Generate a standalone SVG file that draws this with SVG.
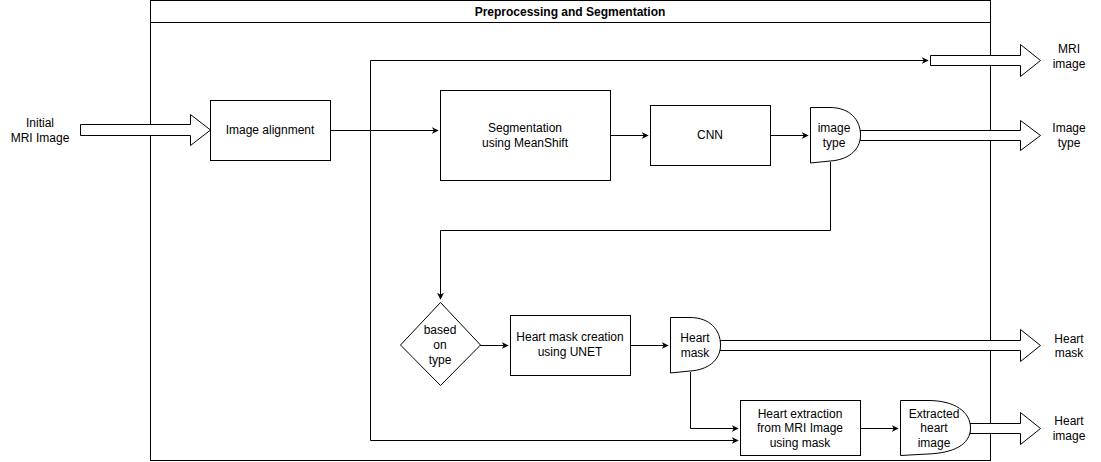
<svg xmlns="http://www.w3.org/2000/svg" width="1101" height="462" viewBox="0 0 1101 462">
<defs>
<marker id="ah" viewBox="0 0 10 10" refX="9" refY="5" markerWidth="7" markerHeight="7" markerUnits="userSpaceOnUse" orient="auto"><path d="M0,0 L10,5 L0,10 L3,5 Z" fill="#000"/></marker>
</defs>
<style>
text{font-family:"Liberation Sans",Arial,sans-serif;font-size:12px;fill:#000;text-anchor:middle;dominant-baseline:central}
.b{fill:#fff;stroke:#000;stroke-width:1}
.c{fill:none;stroke:#000;stroke-width:1}
.fa{fill:#fff;stroke:#000;stroke-width:1}
.t{font-weight:bold}
</style>
<rect width="1101" height="462" fill="#fff"/>
<g id="container">
<rect class="b" x="150.5" y="0.5" width="840" height="460"/>
<line class="c" x1="150.5" y1="22.5" x2="990.5" y2="22.5"/>
<text class="t" x="570" y="12">Preprocessing and Segmentation</text>
</g>
<g id="connectors">
<path class="c" d="M330,130.5 L438,130.5" marker-end="url(#ah)"/>
<path class="c" d="M370.5,440.5 L370.5,60.5 L928,60.5" marker-end="url(#ah)"/>
<path class="c" d="M610,135.5 L648,135.5" marker-end="url(#ah)"/>
<path class="c" d="M770,135.5 L808,135.5" marker-end="url(#ah)"/>
<path class="c" d="M830.5,162 L830.5,230.5 L440.5,230.5 L440.5,299" marker-end="url(#ah)"/>
<path class="c" d="M480,345.5 L508,345.5" marker-end="url(#ah)"/>
<path class="c" d="M630,345.5 L668,345.5" marker-end="url(#ah)"/>
<path class="c" d="M690.5,372 L690.5,428.5 L738,428.5" marker-end="url(#ah)"/>
<path class="c" d="M370.5,440.5 L738,440.5" marker-end="url(#ah)"/>
<path class="c" d="M860,428.5 L898,428.5" marker-end="url(#ah)"/>
<path class="fa" d="M80.5,124.5 H190.5 V114.5 L210.5,130 L190.5,145.5 V135.5 H80.5 Z"/>
<path class="fa" d="M930.5,55.5 H1020.5 V44.5 L1040.5,60.5 L1020.5,76.5 V65.5 H930.5 Z"/>
<path class="fa" d="M860,130.5 H1020.5 V120.5 L1040.5,135.5 L1020.5,150.5 V140.5 H860 Z"/>
<path class="fa" d="M720,340.5 H1020.5 V329.5 L1040.5,345.5 L1020.5,361.5 V350.5 H720 Z"/>
<path class="fa" d="M970,423.5 H1020.5 V412.5 L1040.5,428.5 L1020.5,444.5 V433.5 H970 Z"/>
</g>
<g id="initial-label"><text x="40" y="123">Initial</text><text x="40" y="138">MRI Image</text></g>
<g id="image-alignment"><rect class="b" x="210.5" y="100.5" width="120" height="60"/><text x="270" y="130">Image alignment</text></g>
<g id="segmentation"><rect class="b" x="440.5" y="90.5" width="170" height="90"/><text x="525" y="128">Segmentation</text><text x="525" y="143">using MeanShift</text></g>
<g id="cnn"><rect class="b" x="650.5" y="105.5" width="120" height="60"/><text x="710" y="135">CNN</text></g>
<g id="image-type"><path class="b" d="M810.5,107.5 H830 C850,107.5 860.5,120 860.5,135 C860.5,151 847,160 830,161 L810.5,163 Z"/><text x="834" y="128">image</text><text x="834" y="143">type</text></g>
<g id="based-on-type"><path class="b" d="M440.5,302.5 L480.5,345 L440.5,385.5 L400.5,345 Z"/><text x="440" y="330">based</text><text x="440" y="345">on</text><text x="440" y="360">type</text></g>
<g id="heart-mask-creation"><rect class="b" x="510.5" y="315.5" width="120" height="60"/><text x="570" y="337">Heart mask creation</text><text x="570" y="352">using UNET</text></g>
<g id="heart-mask"><path class="b" d="M670.5,317.5 H690 C710,317.5 720.5,330 720.5,345 C720.5,361 707,370 690,371 L670.5,373 Z"/><text x="695" y="338">Heart</text><text x="695" y="353">mask</text></g>
<g id="heart-extraction"><rect class="b" x="740.5" y="400.5" width="120" height="55"/><text x="800" y="414">Heart extraction</text><text x="800" y="428">from MRI Image</text><text x="800" y="443">using mask</text></g>
<g id="extracted-heart"><path class="b" d="M900.5,400.5 H928 C955,400.5 970.5,412 970.5,428 C970.5,445 953,453 928,454 L900.5,455.5 Z"/><text x="934" y="414">Extracted</text><text x="934" y="428">heart</text><text x="934" y="443">image</text></g>
<g id="out-mri"><text x="1069" y="49">MRI</text><text x="1069" y="64">image</text></g>
<g id="out-type"><text x="1069" y="128">Image</text><text x="1069" y="143">type</text></g>
<g id="out-mask"><text x="1069" y="339">Heart</text><text x="1069" y="353">mask</text></g>
<g id="out-image"><text x="1069" y="421">Heart</text><text x="1069" y="436">image</text></g>
</svg>
